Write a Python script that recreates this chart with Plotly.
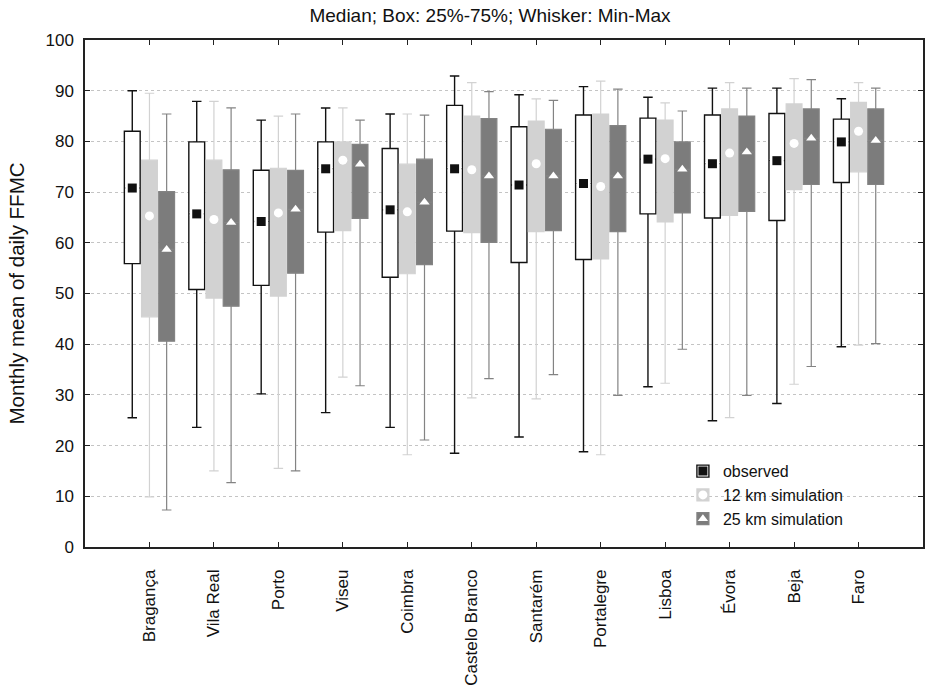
import plotly.graph_objects as go

stations = ["Bragança", "Vila Real", "Porto", "Viseu", "Coimbra", "Castelo Branco",
            "Santarém", "Portalegre", "Lisboa", "Évora", "Beja", "Faro"]

obs_min = [25.5, 23.6, 30.2, 26.5, 23.6, 18.5, 21.7, 18.8, 31.6, 24.9, 28.3, 39.5]
obs_q1 = [55.9, 50.8, 51.6, 62.1, 53.2, 62.3, 56.1, 56.7, 65.7, 64.9, 64.4, 71.9]
obs_med = [70.8, 65.7, 64.2, 74.6, 66.5, 74.6, 71.4, 71.7, 76.5, 75.6, 76.2, 79.9]
obs_q3 = [82.0, 79.9, 74.3, 79.9, 78.6, 87.1, 82.9, 85.2, 84.6, 85.2, 85.5, 84.4]
obs_max = [90.0, 87.9, 84.2, 86.6, 85.4, 92.9, 89.2, 90.8, 88.7, 90.5, 90.5, 88.4]

s12_min = [9.9, 15.0, 15.5, 33.5, 18.2, 29.4, 29.2, 18.2, 32.3, 25.5, 32.1, 39.8]
s12_q1 = [45.4, 49.1, 49.5, 62.4, 53.9, 62.0, 62.2, 56.8, 64.1, 65.4, 70.5, 74.0]
s12_med = [65.3, 64.6, 65.9, 76.3, 66.1, 74.4, 75.6, 71.1, 76.6, 77.7, 79.6, 82.0]
s12_q3 = [76.3, 76.3, 74.7, 79.9, 75.5, 85.0, 84.0, 85.4, 84.2, 86.4, 87.4, 87.7]
s12_max = [89.5, 87.9, 85.0, 86.6, 85.4, 91.6, 88.4, 91.9, 87.6, 91.6, 92.4, 91.6]

s25_min = [7.3, 12.7, 15.0, 31.8, 21.1, 33.2, 34.0, 29.9, 39.0, 29.9, 35.6, 40.1]
s25_q1 = [40.6, 47.5, 54.0, 64.8, 55.7, 60.1, 62.4, 62.2, 65.9, 66.2, 71.5, 71.5]
s25_med = [58.7, 64.0, 66.6, 75.5, 68.0, 73.2, 73.2, 73.2, 74.5, 77.9, 80.6, 80.2]
s25_q3 = [70.1, 74.4, 74.3, 79.4, 76.5, 84.5, 82.4, 83.1, 79.9, 85.0, 86.4, 86.4]
s25_max = [85.4, 86.6, 85.4, 84.2, 85.2, 89.8, 88.1, 90.3, 86.0, 90.5, 92.2, 90.5]

FONT = "Liberation Sans, Arial, Helvetica, sans-serif"

series = [
    dict(name="observed", key="obs", mn=obs_min, q1=obs_q1, md=obs_med, q3=obs_q3, mx=obs_max,
         fill="#ffffff", line="#111111", lw=1.4, sym="square", mcol="#111111", msize=9),
    dict(name="12 km simulation", key="s12", mn=s12_min, q1=s12_q1, md=s12_med, q3=s12_q3, mx=s12_max,
         fill="#d2d2d2", line="#d2d2d2", lw=1.2, sym="circle", mcol="#ffffff", msize=9),
    dict(name="25 km simulation", key="s25", mn=s25_min, q1=s25_q1, md=s25_med, q3=s25_q3, mx=s25_max,
         fill="#7c7c7c", line="#838383", lw=1.2, sym="triangle-up", mcol="#ffffff", msize=9),
]

fig = go.Figure()

for s in series:
    fig.add_trace(go.Box(
        x=stations, lowerfence=s["mn"], q1=s["q1"], median=s["md"], q3=s["q3"], upperfence=s["mx"],
        name=s["name"], offsetgroup=s["key"], alignmentgroup="g",
        fillcolor=s["fill"], line=dict(color=s["line"], width=s["lw"]),
        whiskerwidth=0.6, boxpoints=False, legend="legend", showlegend=True,
    ))

# white cover for the observed median line (median shown as a marker instead)
fig.add_trace(go.Scatter(
    x=stations, y=obs_med, mode="markers", offsetgroup="obs", alignmentgroup="g",
    marker=dict(symbol="line-ew", size=10, line=dict(color="#ffffff", width=3)),
    showlegend=False, hoverinfo="skip",
))

for s in series:
    fig.add_trace(go.Scatter(
        x=stations, y=s["md"], mode="markers", name=s["name"],
        offsetgroup=s["key"], alignmentgroup="g",
        marker=dict(symbol=s["sym"], size=s["msize"], color=s["mcol"], line=dict(width=0)),
        legend="legend2", showlegend=True,
    ))

legend_common = dict(
    x=0.7135, y=0.183, xanchor="left", yanchor="top",
    bgcolor="rgba(0,0,0,0)", borderwidth=0, tracegroupgap=0, itemwidth=30,
)

fig.update_layout(
    width=928, height=687,
    margin=dict(l=85, r=5, t=40, b=140, autoexpand=False),
    paper_bgcolor="white", plot_bgcolor="white",
    font=dict(family=FONT, color="#111111", size=17),
    title=dict(text="Median; Box: 25%-75%; Whisker: Min-Max", x=490 / 928, xanchor="center",
               y=1 - 15 / 687, yanchor="middle", yref="container", xref="container",
               font=dict(size=19, family=FONT)),
    boxmode="group", boxgap=0.2, boxgroupgap=0.08,
    scattermode="group", scattergap=0.2,
    legend=dict(**legend_common, font=dict(size=16, family=FONT, color="#111111")),
    legend2=dict(**legend_common, font=dict(size=16, family=FONT, color="rgba(0,0,0,0)")),
    xaxis=dict(
        type="category", range=[-1, 12], showgrid=False, automargin=False,
        showline=True, linecolor="#222222", linewidth=1.5, mirror="ticks",
        ticks="inside", ticklen=5, tickcolor="#222222", tickwidth=1,
        tickangle=-90, tickfont=dict(size=17, family=FONT), ticklabelstandoff=14,
        zeroline=False,
    ),
    yaxis=dict(
        range=[0, 100], dtick=10, showgrid=True, gridcolor="#c4c4c4", griddash="dot", gridwidth=1,
        showline=True, linecolor="#222222", linewidth=1.5, mirror="ticks", automargin=False,
        ticks="inside", ticklen=5, tickcolor="#222222", tickwidth=1,
        tickfont=dict(size=17, family=FONT), zeroline=False, ticklabelstandoff=6,
        title=dict(text="Monthly mean of daily FFMC", font=dict(size=20.5, family=FONT), standoff=15),
    ),
)

fig.write_html("out.html")
